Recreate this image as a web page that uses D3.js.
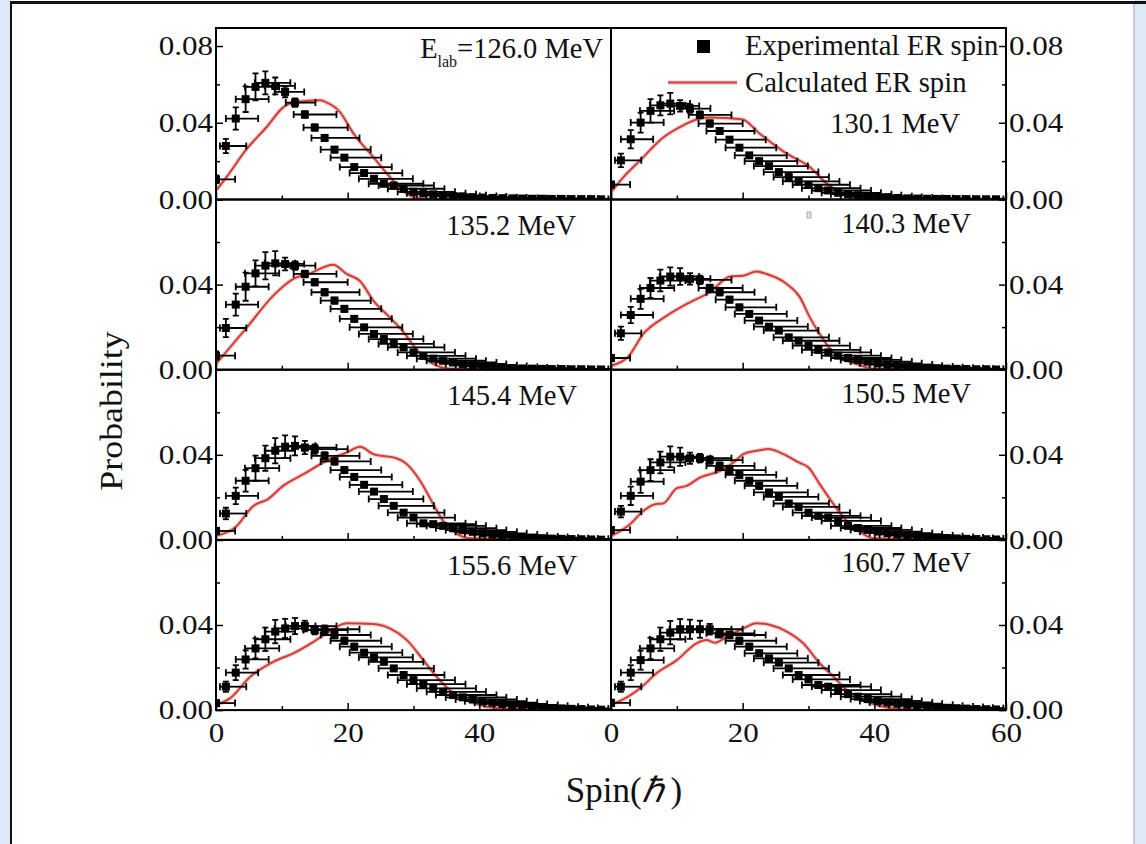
<!DOCTYPE html>
<html>
<head>
<meta charset="utf-8">
<script src="https://cdn.jsdelivr.net/npm/d3@7"></script>
<style>
html, body { margin: 0; padding: 0; background: #fff; }
svg { display: block; }
text { font-family: "Liberation Serif", "Times New Roman", serif; fill: #111; }
</style>
</head>
<body>
<svg id="chart" width="1146" height="844"></svg>
<script>
// ---- Spin grid of the measured points (units of hbar) ----
const spin = [0, 1.5, 3, 4.5, 6, 7.5, 9, 10.5, 12, 13.5, 15, 16.5, 18, 19.5, 21, 22.5, 24, 25.5, 27, 28.5,
  30, 31.5, 33, 34.5, 36, 37.5, 39, 40.5, 42, 43.5, 45, 46.5, 48, 49.5, 51, 52.5, 54, 55.5, 57, 58.5];
// asymmetric spin uncertainties (left / right)
const spinErrLow = [0, 0.9, 1.5, 1.5, 1.6, 1.6, 1.6, 1.6, 1.4, 1.7, 1.7, 2.0, 2.1, 2.1, 2.2, 2.2, 2.3, 2.3, 2.3, 2.4,
  2.4, 2.5, 2.5, 2.5, 2.6, 2.6, 2.6, 2.7, 2.7, 2.7, 2.8, 2.8, 2.8, 2.9, 2.9, 2.9, 3.0, 3.0, 3.0, 3.0];
const spinErrHigh = [2.9, 3.1, 3.4, 3.5, 3.6, 3.8, 3.0, 2.9, 3.1, 4.8, 5.0, 5.3, 5.5, 5.6, 5.7, 5.8, 5.9, 6.0, 6.1, 6.2,
  6.3, 6.4, 6.5, 6.5, 6.6, 6.6, 6.7, 6.7, 6.8, 6.8, 6.9, 6.9, 7.0, 7.0, 7.0, 7.1, 7.1, 7.1, 7.2, 7.2];

const energies = ["126.0", "130.1", "135.2", "140.3", "145.4", "150.5", "155.6", "160.7"];

// ---- Experimental ER spin distributions ----
const exp126 = [0.0105, 0.0279, 0.0422, 0.0523, 0.0587, 0.0608, 0.0592, 0.0561, 0.0505, 0.0443, 0.0375, 0.0321, 0.0260, 0.0218, 0.0169, 0.0138, 0.0108, 0.0082, 0.0073, 0.0056,
  0.0040, 0.0032, 0.0027, 0.0022, 0.0018, 0.0015, 0.0012, 0.0010, 0.0008, 0.0007, 0.0006, 0.0005, 0.0004, 0.0004, 0.0003, 0.0003, 0.0002, 0.0002, 0.0002, 0.0001];
const exp130 = [0.0078, 0.0204, 0.0314, 0.0401, 0.0462, 0.0491, 0.0500, 0.0488, 0.0474, 0.0441, 0.0396, 0.0357, 0.0312, 0.0270, 0.0230, 0.0200, 0.0174, 0.0143, 0.0117, 0.0094,
  0.0077, 0.0059, 0.0047, 0.0035, 0.0028, 0.0022, 0.0017, 0.0013, 0.0010, 0.0008, 0.0006, 0.0005, 0.0004, 0.0003, 0.0003, 0.0002, 0.0002, 0.0001, 0.0001, 0.0001];
const exp135 = [0.0066, 0.0196, 0.0306, 0.0390, 0.0453, 0.0489, 0.0500, 0.0497, 0.0489, 0.0450, 0.0411, 0.0364, 0.0325, 0.0286, 0.0239, 0.0199, 0.0168, 0.0144, 0.0121, 0.0105,
  0.0081, 0.0065, 0.0052, 0.0042, 0.0034, 0.0027, 0.0021, 0.0017, 0.0013, 0.0010, 0.0008, 0.0006, 0.0005, 0.0004, 0.0003, 0.0003, 0.0002, 0.0002, 0.0001, 0.0001];
const exp140 = [0.0055, 0.0171, 0.0257, 0.0333, 0.0384, 0.0419, 0.0438, 0.0438, 0.0427, 0.0422, 0.0384, 0.0364, 0.0329, 0.0293, 0.0262, 0.0231, 0.0202, 0.0184, 0.0152, 0.0136,
  0.0113, 0.0093, 0.0081, 0.0066, 0.0055, 0.0046, 0.0038, 0.0030, 0.0024, 0.0019, 0.0015, 0.0012, 0.0009, 0.0007, 0.0005, 0.0004, 0.0003, 0.0002, 0.0002, 0.0001];
const exp145 = [0.0042, 0.0124, 0.0207, 0.0278, 0.0337, 0.0384, 0.0419, 0.0438, 0.0442, 0.0434, 0.0427, 0.0395, 0.0369, 0.0328, 0.0296, 0.0259, 0.0227, 0.0192, 0.0160, 0.0128,
  0.0105, 0.0078, 0.0074, 0.0066, 0.0055, 0.0046, 0.0038, 0.0031, 0.0025, 0.0020, 0.0016, 0.0013, 0.0010, 0.0008, 0.0006, 0.0005, 0.0004, 0.0003, 0.0002, 0.0001];
const exp150 = [0.0046, 0.0133, 0.0207, 0.0274, 0.0328, 0.0364, 0.0391, 0.0391, 0.0384, 0.0384, 0.0375, 0.0348, 0.0328, 0.0306, 0.0278, 0.0254, 0.0223, 0.0202, 0.0171, 0.0155,
  0.0128, 0.0113, 0.0105, 0.0089, 0.0066, 0.0056, 0.0047, 0.0039, 0.0032, 0.0026, 0.0021, 0.0017, 0.0014, 0.0011, 0.0009, 0.0007, 0.0005, 0.0004, 0.0003, 0.0002];
const exp155 = [0.0033, 0.0110, 0.0176, 0.0238, 0.0290, 0.0333, 0.0369, 0.0384, 0.0395, 0.0395, 0.0376, 0.0380, 0.0353, 0.0326, 0.0298, 0.0270, 0.0248, 0.0227, 0.0196, 0.0165,
  0.0141, 0.0122, 0.0102, 0.0086, 0.0071, 0.0060, 0.0050, 0.0042, 0.0035, 0.0029, 0.0024, 0.0020, 0.0016, 0.0013, 0.0010, 0.0008, 0.0006, 0.0005, 0.0003, 0.0002];
const exp160 = [0.0034, 0.0110, 0.0176, 0.0235, 0.0290, 0.0333, 0.0364, 0.0380, 0.0380, 0.0380, 0.0380, 0.0361, 0.0353, 0.0326, 0.0298, 0.0267, 0.0243, 0.0223, 0.0196, 0.0165,
  0.0144, 0.0118, 0.0110, 0.0094, 0.0075, 0.0063, 0.0052, 0.0043, 0.0036, 0.0030, 0.0025, 0.0020, 0.0017, 0.0014, 0.0011, 0.0009, 0.0007, 0.0005, 0.0004, 0.0003];

// probability uncertainties
const err126 = [0.0020, 0.0037, 0.0058, 0.0067, 0.0070, 0.0060, 0.0044, 0.0028, 0.0022, 0.0018, 0.0016, 0.0015, 0.0014, 0.0013, 0.0012, 0.0011, 0.0010, 0.0010, 0.0009, 0.0009,
  0.0008, 0.0008, 0.0008, 0.0008, 0.0008, 0.0008, 0.0008, 0.0008, 0.0008, 0.0008, 0.0008, 0.0008, 0.0008, 0.0008, 0.0008, 0.0008, 0.0008, 0.0008, 0.0008, 0.0008];
const err130 = [0.0015, 0.0035, 0.0048, 0.0052, 0.0061, 0.0052, 0.0056, 0.0030, 0.0022, 0.0018, 0.0016, 0.0015, 0.0014, 0.0013, 0.0012, 0.0011, 0.0010, 0.0010, 0.0009, 0.0009,
  0.0008, 0.0008, 0.0008, 0.0008, 0.0008, 0.0008, 0.0008, 0.0008, 0.0008, 0.0008, 0.0008, 0.0008, 0.0008, 0.0008, 0.0008, 0.0008, 0.0008, 0.0008, 0.0008, 0.0008];
const err135 = [0.0020, 0.0043, 0.0052, 0.0066, 0.0061, 0.0064, 0.0057, 0.0030, 0.0020, 0.0016, 0.0015, 0.0015, 0.0014, 0.0013, 0.0012, 0.0011, 0.0010, 0.0010, 0.0009, 0.0009,
  0.0008, 0.0008, 0.0008, 0.0008, 0.0008, 0.0008, 0.0008, 0.0008, 0.0008, 0.0008, 0.0008, 0.0008, 0.0008, 0.0008, 0.0008, 0.0008, 0.0008, 0.0008, 0.0008, 0.0008];
const err140 = [0.0015, 0.0031, 0.0038, 0.0047, 0.0047, 0.0051, 0.0043, 0.0039, 0.0027, 0.0020, 0.0016, 0.0015, 0.0014, 0.0013, 0.0012, 0.0011, 0.0010, 0.0010, 0.0009, 0.0009,
  0.0008, 0.0008, 0.0008, 0.0008, 0.0008, 0.0008, 0.0008, 0.0008, 0.0008, 0.0008, 0.0008, 0.0008, 0.0008, 0.0008, 0.0008, 0.0008, 0.0008, 0.0008, 0.0008, 0.0008];
const err145 = [0.0015, 0.0027, 0.0039, 0.0051, 0.0059, 0.0059, 0.0059, 0.0053, 0.0045, 0.0031, 0.0022, 0.0018, 0.0015, 0.0014, 0.0013, 0.0012, 0.0011, 0.0010, 0.0009, 0.0009,
  0.0008, 0.0008, 0.0008, 0.0008, 0.0008, 0.0008, 0.0008, 0.0008, 0.0008, 0.0008, 0.0008, 0.0008, 0.0008, 0.0008, 0.0008, 0.0008, 0.0008, 0.0008, 0.0008, 0.0008];
const err150 = [0.0015, 0.0027, 0.0043, 0.0053, 0.0051, 0.0051, 0.0049, 0.0043, 0.0026, 0.0020, 0.0018, 0.0016, 0.0015, 0.0014, 0.0013, 0.0012, 0.0011, 0.0010, 0.0009, 0.0009,
  0.0008, 0.0008, 0.0008, 0.0008, 0.0008, 0.0008, 0.0008, 0.0008, 0.0008, 0.0008, 0.0008, 0.0008, 0.0008, 0.0008, 0.0008, 0.0008, 0.0008, 0.0008, 0.0008, 0.0008];
const err155 = [0.0015, 0.0024, 0.0035, 0.0043, 0.0047, 0.0055, 0.0055, 0.0045, 0.0038, 0.0025, 0.0020, 0.0018, 0.0016, 0.0015, 0.0014, 0.0013, 0.0012, 0.0011, 0.0010, 0.0009,
  0.0008, 0.0008, 0.0008, 0.0008, 0.0008, 0.0008, 0.0008, 0.0008, 0.0008, 0.0008, 0.0008, 0.0008, 0.0008, 0.0008, 0.0008, 0.0008, 0.0008, 0.0008, 0.0008, 0.0008];
const err160 = [0.0015, 0.0024, 0.0035, 0.0045, 0.0050, 0.0055, 0.0055, 0.0048, 0.0045, 0.0040, 0.0025, 0.0020, 0.0016, 0.0015, 0.0014, 0.0013, 0.0012, 0.0011, 0.0010, 0.0009,
  0.0008, 0.0008, 0.0008, 0.0008, 0.0008, 0.0008, 0.0008, 0.0008, 0.0008, 0.0008, 0.0008, 0.0008, 0.0008, 0.0008, 0.0008, 0.0008, 0.0008, 0.0008, 0.0008, 0.0008];

// ---- Calculated ER spin distributions (spin, probability) ----
const calcSpin126 = [0, 1.6, 4.7, 7.7, 10.2, 12.3, 15.8, 16.6, 18.8, 20.9, 23.9, 26.9, 29, 31, 32.5, 60];
const calc126 = [0.0047, 0.0117, 0.0265, 0.0378, 0.0480, 0.0509, 0.0518, 0.0509, 0.0457, 0.0343, 0.0221, 0.0099, 0.0030, 0.0005, 0, 0];
const calcSpin130 = [0, 1.9, 4.7, 7.4, 10.5, 13.5, 15, 19.9, 22.6, 26.7, 30.2, 32.8, 34.8, 36.8, 38.8, 60];
const calc130 = [0.0038, 0.0117, 0.0213, 0.0308, 0.0378, 0.0422, 0.0427, 0.0418, 0.0343, 0.0239, 0.0169, 0.0082, 0.0038, 0.0012, 0.0003, 0];
const calcSpin135 = [0, 4.7, 8.7, 11.75, 14.3, 17.8, 19.85, 21.9, 23.9, 26.4, 28.5, 30.2, 31.5, 33, 35.5, 60];
const calc135 = [0.0027, 0.0199, 0.0348, 0.0427, 0.0453, 0.0493, 0.0450, 0.0416, 0.0325, 0.0246, 0.0176, 0.0105, 0.0058, 0.0027, 0.0005, 0];
const calcSpin140 = [0, 2.6, 4.9, 8.5, 12, 15, 18.1, 20.1, 22.1, 23.65, 26.7, 28.7, 30.2, 31.7, 33.3, 34.8, 37.3, 39.8, 60];
const calc140 = [0.0019, 0.0061, 0.0168, 0.0254, 0.0317, 0.0364, 0.0438, 0.0442, 0.0461, 0.0450, 0.0403, 0.0340, 0.0246, 0.0168, 0.0097, 0.0058, 0.0027, 0.0005, 0];
const calcSpin145 = [0, 2.9, 5.7, 7.9, 10.2, 13.3, 16.8, 19.85, 21.9, 23.9, 27.4, 29, 31, 33, 34.5, 36, 38.5, 60];
const calc145 = [0.0019, 0.0058, 0.0160, 0.0192, 0.0254, 0.0309, 0.0372, 0.0411, 0.0438, 0.0403, 0.0384, 0.0356, 0.0278, 0.0168, 0.0089, 0.0042, 0.0008, 0];
const calcSpin150 = [0, 2.9, 4.9, 6.7, 7.9, 10, 11.5, 13.5, 16.6, 18.6, 20.1, 22.1, 23.9, 26.2, 28.5, 30, 31.7, 33.8, 35.8, 37.3, 39.8, 60];
const calc150 = [0.0019, 0.0074, 0.0136, 0.0168, 0.0171, 0.0243, 0.0254, 0.0293, 0.0325, 0.0364, 0.0403, 0.0419, 0.0427, 0.0403, 0.0364, 0.0340, 0.0262, 0.0168, 0.0089, 0.0050, 0.0008, 0];
const calcSpin155 = [0, 2.1, 5.2, 8.7, 11.75, 14.8, 16.8, 19.85, 23.9, 26.4, 29, 31.5, 33.5, 35.5, 37.6, 40.1, 43.1, 60];
const calc155 = [0.0024, 0.0055, 0.0157, 0.0227, 0.0267, 0.0321, 0.0361, 0.0408, 0.0405, 0.0384, 0.0329, 0.0235, 0.0157, 0.0094, 0.0055, 0.0024, 0.0008, 0];
const calcSpin160 = [0, 2.6, 4.7, 6.9, 10, 13, 14.5, 15.8, 17.6, 20.1, 22.1, 24.2, 26.7, 29.2, 31.7, 33.8, 35.8, 38.3, 41.4, 44.9, 60];
const calc160 = [0.0024, 0.0063, 0.0110, 0.0173, 0.0235, 0.0314, 0.0329, 0.0317, 0.0345, 0.0384, 0.0408, 0.0400, 0.0369, 0.0314, 0.0220, 0.0157, 0.0094, 0.0047, 0.0016, 0.0003, 0];

const panels = [
  { energy: energies[0], exp: exp126, err: err126, cs: calcSpin126, cv: calc126 },
  { energy: energies[1], exp: exp130, err: err130, cs: calcSpin130, cv: calc130 },
  { energy: energies[2], exp: exp135, err: err135, cs: calcSpin135, cv: calc135 },
  { energy: energies[3], exp: exp140, err: err140, cs: calcSpin140, cv: calc140 },
  { energy: energies[4], exp: exp145, err: err145, cs: calcSpin145, cv: calc145 },
  { energy: energies[5], exp: exp150, err: err150, cs: calcSpin150, cv: calc150 },
  { energy: energies[6], exp: exp155, err: err155, cs: calcSpin155, cv: calc155 },
  { energy: energies[7], exp: exp160, err: err160, cs: calcSpin160, cv: calc160 }
];

const xMajor = [0, 20, 40, 60], xMinor = [10, 30, 50];
const yMajor = [0, 0.04, 0.08], yMinor = [0.02, 0.06];

// ---- Layout ----
const colX = [[216, 611], [611, 1006]];
const rowY = [[28, 199.5], [199.5, 369.7], [369.7, 539.9], [539.9, 710.1]];
const rowMax = [0.0894, 0.08, 0.08, 0.08];
const labelPos = [
  { x: 603, y: 58 }, { x: 960, y: 133 },
  { x: 576, y: 235 }, { x: 971, y: 233 },
  { x: 577, y: 405 }, { x: 971, y: 403 },
  { x: 577, y: 575 }, { x: 971, y: 572 }
];

const RED = "#e8352c";
const svg = d3.select("#chart");

// page frame
svg.append("rect").attr("x", 0).attr("y", 0).attr("width", 11).attr("height", 844).attr("fill", "#dde9f6");
svg.append("rect").attr("x", 1134).attr("y", 0).attr("width", 12).attr("height", 844).attr("fill", "#dde9f6");
svg.append("line").attr("x1", 1134).attr("x2", 1134).attr("y1", 4).attr("y2", 844).attr("stroke", "#9aa7b5").attr("stroke-width", 1);
svg.append("line").attr("x1", 11).attr("x2", 11).attr("y1", 1).attr("y2", 844).attr("stroke", "#111").attr("stroke-width", 2);
svg.append("line").attr("x1", 10).attr("x2", 1146).attr("y1", 2.5).attr("y2", 2.5).attr("stroke", "#111").attr("stroke-width", 3);

const defs = svg.append("defs");

function stretchTicks(g, sx) {
  g.selectAll(".tick text").each(function () {
    const t = d3.select(this);
    const x = +t.attr("x") || 0;
    t.attr("x", x / sx).attr("transform", `scale(${sx},1)`);
  });
}

panels.forEach((p, i) => {
  const row = Math.floor(i / 2), col = i % 2;
  const [x0, x1] = colX[col], [y0, y1] = rowY[row];
  const x = d3.scaleLinear().domain([0, 60]).range([x0, x1]);
  const y = d3.scaleLinear().domain([0, rowMax[row]]).range([y1, y0]);

  const clipId = "clip" + i;
  defs.append("clipPath").attr("id", clipId)
    .append("rect").attr("x", x0).attr("y", y0 - 1).attr("width", x1 - x0).attr("height", y1 - y0 + 1);

  const g = svg.append("g");
  const data = g.append("g").attr("clip-path", `url(#${clipId})`);

  // calculated curve with soft grey halo
  const line = d3.line().x((d, k) => x(p.cs[k])).y(d => y(d)).curve(d3.curveMonotoneX);
  data.append("path").datum(p.cv).attr("d", line).attr("fill", "none")
    .attr("stroke", "#b8b8b8").attr("stroke-width", 4.5).attr("stroke-opacity", 0.55);
  data.append("path").datum(p.cv).attr("d", line).attr("fill", "none")
    .attr("stroke", RED).attr("stroke-width", 2);

  // experimental points with error bars
  const pts = spin.map((s, k) => ({ s, v: p.exp[k], e: p.err[k], lo: spinErrLow[k], hi: spinErrHigh[k] }));
  const eb = data.append("g").attr("stroke", "#000").attr("stroke-width", 1.8).attr("fill", "none");
  pts.forEach(d => {
    const cx = x(d.s), cy = y(d.v);
    const xl = x(Math.max(0, d.s - d.lo)), xr = x(d.s + d.hi);
    const yt = y(d.v + d.e), yb = y(Math.max(0, d.v - d.e));
    eb.append("line").attr("x1", xl).attr("x2", xr).attr("y1", cy).attr("y2", cy);
    eb.append("line").attr("x1", xl).attr("x2", xl).attr("y1", cy - 3.5).attr("y2", cy + 3.5);
    eb.append("line").attr("x1", xr).attr("x2", xr).attr("y1", cy - 3.5).attr("y2", cy + 3.5);
    eb.append("line").attr("x1", cx).attr("x2", cx).attr("y1", yt).attr("y2", yb);
    eb.append("line").attr("x1", cx - 3).attr("x2", cx + 3).attr("y1", yt).attr("y2", yt);
    eb.append("line").attr("x1", cx - 3).attr("x2", cx + 3).attr("y1", yb).attr("y2", yb);
  });
  data.append("g").selectAll("rect").data(pts).join("rect")
    .attr("x", d => x(d.s) - 4).attr("y", d => y(d.v) - 4)
    .attr("width", 8).attr("height", 8).attr("fill", "#000");

  // bottom axis (inward ticks)
  const showX = row === 3;
  const xLabels = col === 0 ? [0, 20, 40] : [0, 20, 40, 60];
  const gxMaj = g.append("g").attr("transform", `translate(0,${y1})`)
    .call(d3.axisBottom(x).tickValues(xMajor).tickSize(-7).tickPadding(13)
      .tickFormat(v => (showX && xLabels.includes(v)) ? d3.format("d")(v) : ""));
  g.append("g").attr("transform", `translate(0,${y1})`)
    .call(d3.axisBottom(x).tickValues(xMinor).tickSize(-4).tickFormat(""));

  // vertical axis on the outer side
  const yLabels = row === 0 ? [0, 0.04, 0.08] : [0, 0.04];
  const yFmt = v => yLabels.includes(v) ? d3.format(".2f")(v) : "";
  let gyMaj;
  if (col === 0) {
    gyMaj = g.append("g").attr("transform", `translate(${x0},0)`)
      .call(d3.axisLeft(y).tickValues(yMajor).tickSize(-7).tickPadding(3).tickFormat(yFmt));
    g.append("g").attr("transform", `translate(${x0},0)`)
      .call(d3.axisLeft(y).tickValues(yMinor).tickSize(-4).tickFormat(""));
  } else {
    gyMaj = g.append("g").attr("transform", `translate(${x1},0)`)
      .call(d3.axisRight(y).tickValues(yMajor).tickSize(-7).tickPadding(3).tickFormat(yFmt));
    g.append("g").attr("transform", `translate(${x1},0)`)
      .call(d3.axisRight(y).tickValues(yMinor).tickSize(-4).tickFormat(""));
  }
  g.selectAll(".domain").remove();
  g.selectAll(".tick line").attr("stroke", "#000").attr("stroke-width", 1.5);
  [gxMaj, gyMaj].forEach(a => a.selectAll(".tick text")
    .attr("font-family", "'Liberation Serif', 'Times New Roman', serif")
    .attr("font-size", 27).attr("fill", "#111"));
  stretchTicks(gyMaj, 1.15);
  stretchTicks(gxMaj, 1.15);

  // panel frame
  g.append("rect").attr("x", x0).attr("y", y0).attr("width", x1 - x0).attr("height", y1 - y0)
    .attr("fill", "none").attr("stroke", "#000").attr("stroke-width", 2);

  // energy label
  const lp = labelPos[i];
  const lab = g.append("text").attr("x", lp.x).attr("y", lp.y).attr("text-anchor", "end").attr("font-size", 28.5);
  if (i === 0) {
    lab.append("tspan").text("E");
    lab.append("tspan").attr("font-size", 16).attr("dy", 9).text("lab");
    lab.append("tspan").attr("dy", -9).text("=" + p.energy + " MeV");
  } else {
    lab.text(p.energy + " MeV");
  }
});

// small marker glyph beside the 140.3 MeV label
svg.append("rect").attr("x", 807).attr("y", 212).attr("width", 4).attr("height", 6)
  .attr("fill", "#e4e4e4").attr("stroke", "#9a9a9a").attr("stroke-width", 0.8);

// legend
const leg = svg.append("g");
leg.append("rect").attr("x", 697).attr("y", 40).attr("width", 13).attr("height", 13).attr("fill", "#000");
leg.append("text").attr("x", 745).attr("y", 55).attr("font-size", 28.7).text("Experimental ER spin");
leg.append("line").attr("x1", 668).attr("x2", 737).attr("y1", 82.5).attr("y2", 82.5)
  .attr("stroke", "#b8b8b8").attr("stroke-width", 4.5).attr("stroke-opacity", 0.55);
leg.append("line").attr("x1", 668).attr("x2", 737).attr("y1", 82.5).attr("y2", 82.5)
  .attr("stroke", RED).attr("stroke-width", 2);
leg.append("text").attr("x", 745).attr("y", 92).attr("font-size", 28.7).text("Calculated ER spin");

// axis titles
svg.append("text").attr("transform", "translate(122,411) rotate(-90) scale(1.12,1)")
  .attr("text-anchor", "middle").attr("font-size", 32).text("Probability");
const st = svg.append("text").attr("x", 624).attr("y", 802).attr("text-anchor", "middle").attr("font-size", 35);
st.append("tspan").text("Spin(");
st.append("tspan").attr("font-style", "italic").text("\u210F");
st.append("tspan").attr("dx", 7).text(")");
</script>
</body>
</html>
